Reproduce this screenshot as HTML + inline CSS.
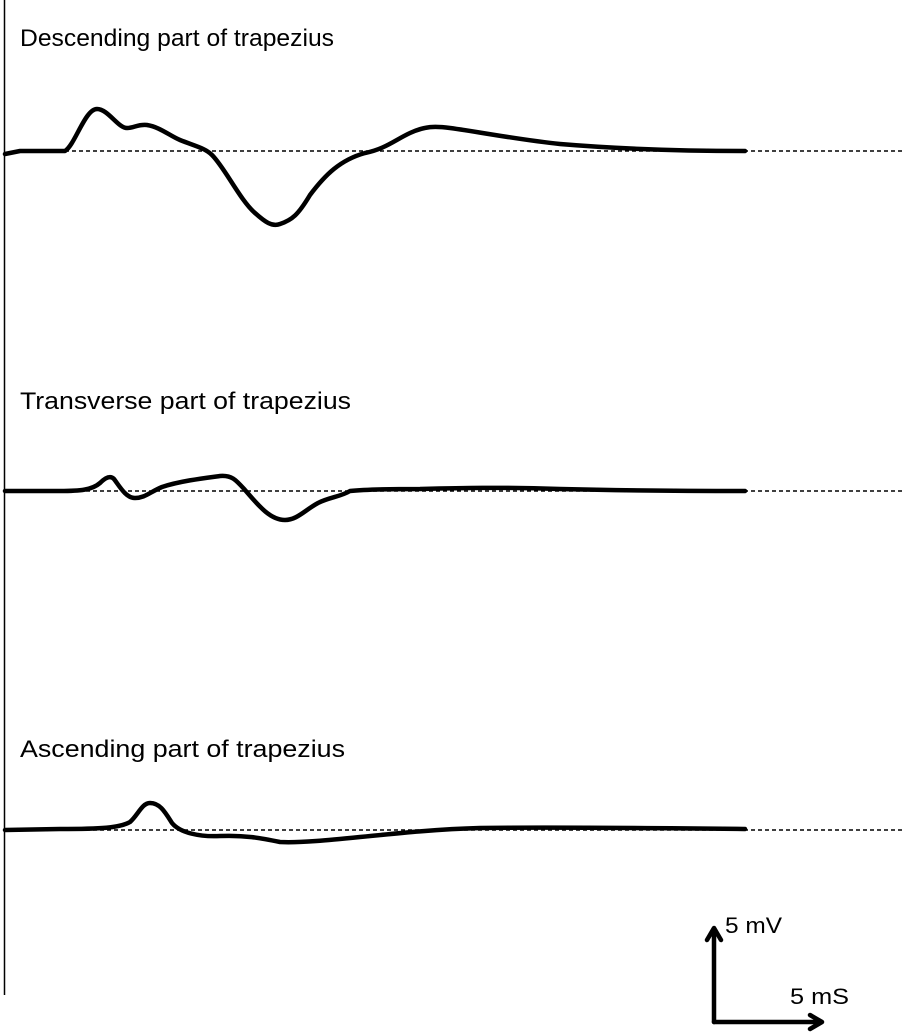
<!DOCTYPE html>
<html><head><style>body{margin:0;background:#fff}svg{display:block}</style></head><body>
<svg width="902" height="1033" viewBox="0 0 902 1033" xmlns="http://www.w3.org/2000/svg" font-family="Liberation Sans, sans-serif">
<rect width="902" height="1033" fill="#fff"/>
<line x1="4.5" y1="0" x2="4.5" y2="995" stroke="#000" stroke-width="1.5"/>
<g fill="#000" font-size="24">
<text x="20" y="46" textLength="314" lengthAdjust="spacingAndGlyphs">Descending part of trapezius</text>
<text x="20" y="409" textLength="331" lengthAdjust="spacingAndGlyphs">Transverse  part of trapezius</text>
<text x="20" y="757" textLength="325" lengthAdjust="spacingAndGlyphs">Ascending part of trapezius</text>
<text x="725" y="933" font-size="22" textLength="57" lengthAdjust="spacingAndGlyphs">5 mV</text>
<text x="790" y="1004" font-size="22" textLength="59" lengthAdjust="spacingAndGlyphs">5 mS</text>
</g>
<g stroke="#000" stroke-width="1.5" stroke-dasharray="4,3">
<line x1="65" y1="151" x2="902" y2="151"/>
<line x1="65" y1="491" x2="902" y2="491"/>
<line x1="65" y1="830" x2="902" y2="830"/>
</g>
<g fill="none" stroke="#000" stroke-width="4.5" stroke-linejoin="round" stroke-linecap="round">
<path d="M5,154 L20,151 L65,151 C75,145 85,109 97,109 C108,109 118,128 127,128 C134,128 138,124 147,125 C160,127 170,136 180,140 C195,146 205,148 212,155 C225,168 240,200 255,213 C265,222 272,227 280,224 C292,220 298,215 310,195 C325,175 340,160 365,153 C385,149 395,140 410,133 C425,126 435,126 450,128 C480,132 520,140 560,144 C620,149 680,151 745,151"/>
<path d="M5,491 L60,491 C80,491 92,490 100,483 C105,478 110,475 114,479 C120,487 126,498 135,498 C145,498 150,492 162,487 C180,481 205,478 220,476 C232,475 236,480 245,490 C258,505 270,520 285,520 C297,520 305,510 318,503 C330,497 340,497 350,491 C370,489 400,489 420,489 C460,488 500,487 560,489 C640,491 700,491 745,491"/>
<path d="M5,830 L60,829 C100,829 120,828 130,822 C138,815 142,803 150,803 C160,803 165,812 172,823 C180,833 200,837 220,836 C245,835 260,838 280,842 C300,843 330,840 360,837 C400,833 440,829 480,828 C560,827 650,828 745,829"/>
</g>
<g stroke="#000" stroke-width="4.5" fill="none" stroke-linecap="round" stroke-linejoin="round">
<path d="M714,1022 L714,930 M707,940 L714,928 L721,940"/>
<path d="M714,1022 L820,1022 M810,1015 L822,1022 L810,1029"/>
</g>
</svg>
</body></html>
